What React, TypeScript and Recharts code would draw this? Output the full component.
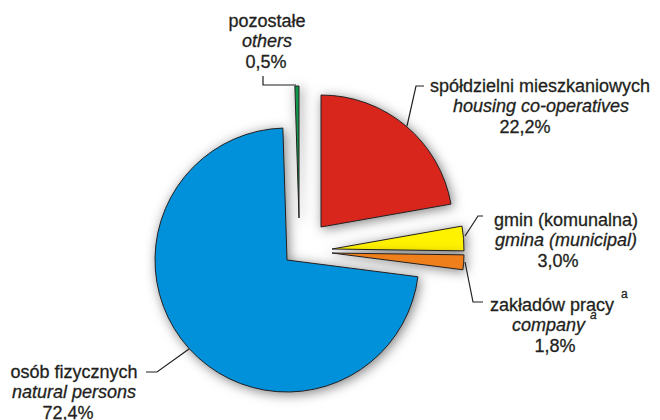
import React from "react";
import { PieChart, Pie, Cell } from "recharts";

// ownership structure, clockwise from 12 o'clock
const namesPl = [
  "spółdzielni mieszkaniowych",
  "gmin (komunalna)",
  "zakładów pracy",
  "osób fizycznych",
  "pozostałe",
];
const namesEn = [
  "housing co-operatives",
  "gmina (municipal)",
  "company",
  "natural persons",
  "others",
];
const shares = [22.2, 3.0, 1.8, 72.4, 0.5];
const hasFootnote = [false, false, true, false, false];

const colors = ["#d8261d", "#fff200", "#ef7f1a", "#0091da", "#12964a"];
const INK = "#231f20";
const FONT = "'Liberation Sans', Arial, sans-serif";

const data = shares.map((v, i) => ({ name: namesPl[i], nameEn: namesEn[i], value: v }));

// each slice is pulled out from the centre by a different amount
const sliceCenters = [
  [321, 227],
  [332, 249],
  [332, 253],
  [287, 260],
  [299, 218],
];
const RADIUS = 132;

// label placement: x per line, first baseline, leader polyline
const labelLayout = [
  { xs: [540, 541, 525], y: 92, leader: "424,86 416,86 407,126" },
  { xs: [566, 566, 558], y: 226, leader: "483,216 478,216 465,236" },
  { xs: [490, 512, 555], y: 311, leader: "465,262 473,302 483,302" },
  { xs: [74, 74, 68], y: 378, leader: "146,372 157,372 189,349" },
  { xs: [267, 267, 266], y: 27, leader: "263,76 263,85 296,85" },
];

const fmt = (v: number) => v.toFixed(1).replace(".", ",") + "%";

const makeLabel = (slice: number) => (props: any) => {
  if (props.index !== slice) return null;
  const l = labelLayout[slice];
  const note = hasFootnote[slice];
  const txt = { fill: INK, stroke: INK, strokeWidth: 0.3, fontSize: 18, fontFamily: FONT };
  const anchor = note ? "start" : "middle";
  return (
    <g>
      <polyline points={l.leader} fill="none" stroke={INK} strokeWidth={1.2} />
      <text x={l.xs[0]} y={l.y} textAnchor={anchor} {...txt}>
        {namesPl[slice]}
        {note && <tspan dx={7} dy={-13} fontSize={12}>a</tspan>}
      </text>
      <text x={l.xs[1]} y={l.y + 20} textAnchor={anchor} fontStyle="italic" {...txt}>
        {namesEn[slice]}
        {note && <tspan dx={5} dy={-12} fontSize={12}>a</tspan>}
      </text>
      <text x={l.xs[2]} y={l.y + 41} textAnchor="middle" {...txt}>{fmt(shares[slice])}</text>
    </g>
  );
};

export default function App() {
  return (
    <div style={{ position: "absolute", left: 0, top: 0, width: 660, height: 420, background: "#fff" }}>
      <style>{`.recharts-pie-sector path { filter: drop-shadow(2px 2px 6px rgba(0,0,0,0.5)); }`}</style>
      <PieChart width={660} height={420} margin={{ top: 0, right: 0, bottom: 0, left: 0 }}>
        {sliceCenters.map(([cx, cy], s) => (
          <Pie
            key={s}
            data={data}
            dataKey="value"
            cx={cx}
            cy={cy}
            outerRadius={RADIUS}
            startAngle={90}
            endAngle={-270}
            isAnimationActive={false}
            label={makeLabel(s)}
            labelLine={false}
          >
            {data.map((d, i) => (
              <Cell
                key={i}
                fill={i === s ? colors[i] : "none"}
                stroke={i === s ? INK : "none"}
                strokeWidth={1}
              />
            ))}
          </Pie>
        ))}
      </PieChart>
    </div>
  );
}
